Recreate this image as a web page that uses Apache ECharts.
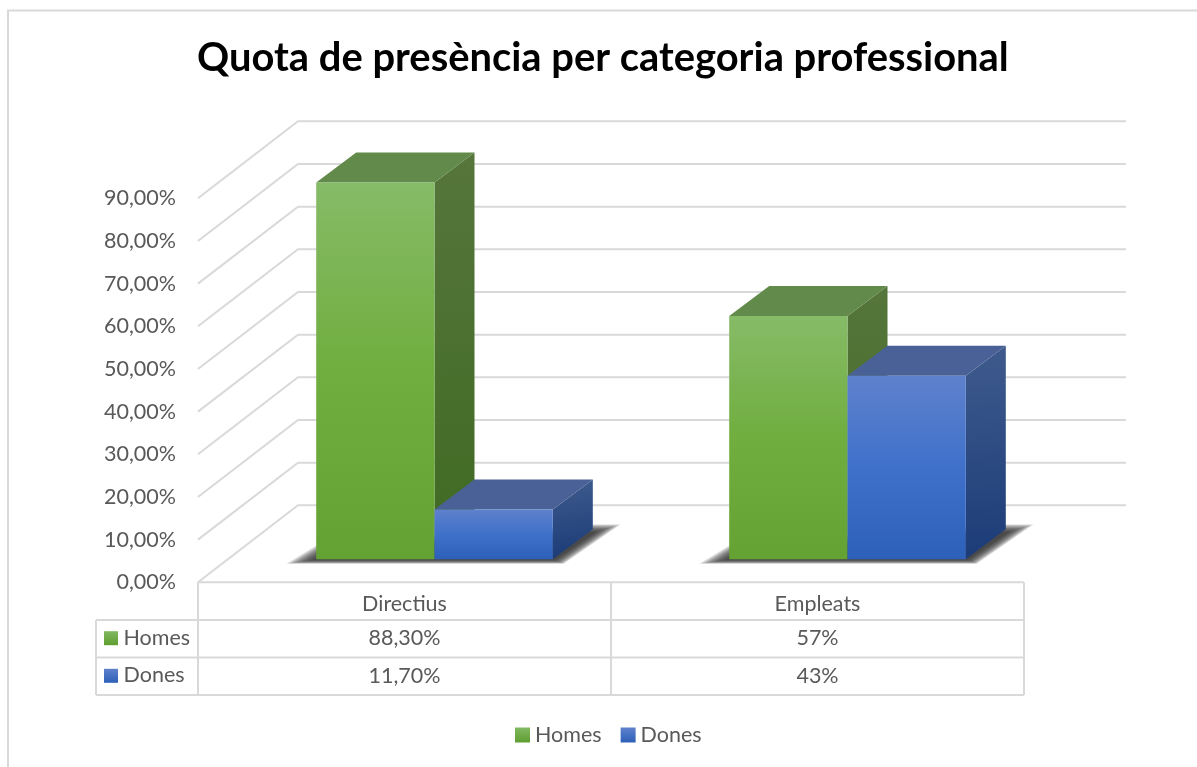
<!DOCTYPE html>
<html><head><meta charset="utf-8">
<style>html,body{margin:0;padding:0;background:#fff}#c{width:1197px;height:767px}</style>
<script src="https://cdn.jsdelivr.net/npm/echarts@6/dist/echarts.min.js"></script>
</head><body><div id="c"></div>
<script>
var titleText = 'Quota de presència per categoria professional';
var categories = ['Directius', 'Empleats'];
var seriesNames = ['Homes', 'Dones'];
var homes = [88.3, 57];
var dones = [11.7, 43];
var homesLabels = ['88,30%', '57%'];
var donesLabels = ['11,70%', '43%'];
var tickValues = [0, 10, 20, 30, 40, 50, 60, 70, 80, 90];

var FONT = 'Lato, "Open Sans", sans-serif';
var TXT = '#595959', GRID = '#d9d9d9';
var G = function (a, b, c, x2, y2) {
  var stops = c ? [{offset:0,color:a},{offset:.5,color:b},{offset:1,color:c}] : [{offset:0,color:a},{offset:1,color:b}];
  return new echarts.graphic.LinearGradient(0, 0, x2 || 0, y2 === undefined ? 1 : y2, stops);
};
var palette = [
  {front:['#86bb67','#70ae3f','#64a233'], side:['#56763c','#3f6a22'], top:'#628a4a', legend:['#82b862','#5f9e30']},
  {front:['#5f81cc','#3f71ca','#2d60b8'], side:['#3f5b8d','#1c3c78'], top:'#496196', legend:['#5f81cc','#2d60b8']}
];
// 3D projection: wall depth and the bar plane inside it
var WALL = [100, -77], PLANE = [30, -23], BAR = [40, -30], BAR_W = 118.3;
var TABLE_LEFT = 96, ROW = 37.6, SHADOW_LAYERS = 14;

function renderGrid(params, api) {
  var v = api.value(0);
  var p = api.coord([0, v]);
  var band = api.size([1, 0])[0];
  var x0 = p[0] - band / 2;
  var end = x0 + band * categories.length;
  var backX = x0 + WALL[0], backY = p[1] + WALL[1];
  var st = {stroke: GRID, lineWidth: 2, fill: null};
  return {type:'polyline', shape:{points:[[x0,p[1]],[backX,backY],[end+WALL[0]+2,backY]]}, style:st, silent:true};
}

function renderBar(s) {
  return function (params, api) {
    var i = api.value(0), val = api.value(1);
    var base = api.coord([i, 0]), top = api.coord([i, val]);
    var cx = base[0] + PLANE[0];
    var x0 = s === 0 ? cx - BAR_W : cx, x1 = x0 + BAR_W;
    var yb = base[1] + PLANE[1], yt = top[1] + PLANE[1];
    var dx = BAR[0], dy = BAR[1], c = palette[s];
    var kids = [];
    kids.push({type:'polygon', shape:{points:[[x1,yb],[x1+dx,yb+dy],[x1+dx,yt+dy],[x1,yt]]}, style:{fill:G(c.side[0],c.side[1],null,.25,1)}});
    kids.push({type:'polygon', shape:{points:[[x0,yt],[x0+dx,yt+dy],[x1+dx,yt+dy],[x1,yt]]}, style:{fill:c.top}});
    kids.push({type:'rect', shape:{x:x0,y:yt,width:BAR_W,height:yb-yt}, style:{fill:G(c.front[0],c.front[1],c.front[2])}});
    return {type:'group', children:kids, silent:true};
  };
}

function renderShadow(params, api) {
  var i = api.value(0);
  var base = api.coord([i, 0]);
  var cx = base[0] + PLANE[0], x0 = cx - BAR_W, x2 = cx + BAR_W, yb = base[1] + PLANE[1];
  var dx = BAR[0], dy = BAR[1];
  var outer = [[x0-30,yb+4.5],[x0+2,yb-15],[x2+dx,yb+dy-5],[x2+dx+28,yb+dy-5],[x2+11,yb+4.5]];
  var inner = [[x0-2,yb+.5],[x0+2,yb-2],[x2+dx,yb+dy+3],[x2+dx+2,yb+dy+3],[x2+2,yb+.5]];
  var kids = [];
  for (var k = 0; k < SHADOW_LAYERS; k++) {
    var t = k / (SHADOW_LAYERS - 1);
    var pts = outer.map(function (p, n) {
      return [p[0] + (inner[n][0] - p[0]) * t, p[1] + (inner[n][1] - p[1]) * t];
    });
    kids.push({type:'polygon', shape:{points:pts}, style:{fill:'rgba(45,45,45,.13)'}});
  }
  return {type:'group', silent:true, children:kids};
}

function renderTable(params, api) {
  var o = api.coord([0, 0]);
  var band = api.size([1, 0])[0];
  var x0 = o[0] - band / 2, y0 = o[1];
  var xEnd = x0 + band * categories.length;
  var st = {stroke: GRID, lineWidth: 2, fill:null};
  var line = function (a, b, c, d) { return {type:'line', shape:{x1:a,y1:b,x2:c,y2:d}, style:st}; };
  var kids = [];
  kids.push(line(x0, y0, xEnd, y0));
  for (var r = 1; r <= 3; r++) kids.push(line(TABLE_LEFT, y0 + ROW * r, xEnd, y0 + ROW * r));
  kids.push(line(TABLE_LEFT, y0 + ROW, TABLE_LEFT, y0 + ROW * 3));
  for (var k = 0; k <= categories.length; k++) kids.push(line(x0 + band * k, y0, x0 + band * k, y0 + ROW * 3));
  var txt = function (t, x, y, align) {
    return {type:'text', style:{text:t, x:x, y:y, align:align || 'center', verticalAlign:'middle', fill:TXT, font:'21.5px ' + FONT}};
  };
  var rows = [homesLabels, donesLabels];
  rows.forEach(function (vals, r) {
    var y = y0 + ROW * (r + 1.5) - .5;
    kids.push({type:'rect', shape:{x:104,y:y-7,width:14,height:14}, style:{fill:G(palette[r].legend[0],palette[r].legend[1])}});
    kids.push(txt(seriesNames[r], 123.5, y - .5, 'left'));
    vals.forEach(function (t, c) { kids.push(txt(t, x0 + band * (c + .5), y)); });
  });
  return {type:'group', children:kids, silent:true};
}

var chart = echarts.init(document.getElementById('c'), null, {renderer:'canvas'});
chart.setOption({
  animation:false,
  backgroundColor:'#fff',
  title:{text:titleText, left:192, top:33, textStyle:{color:'#000', fontSize:39.9, fontWeight:'bold', fontFamily:FONT}},
  legend:{left:510, top:719, icon:'rect', itemWidth:15, itemHeight:15, itemGap:19, selectedMode:false,
    textStyle:{color:TXT, fontSize:21.5, fontFamily:FONT}, data:seriesNames},
  grid:{left:198, right:173, top:198.3, bottom:184.7},
  xAxis:{type:'category', data:categories, axisLine:{show:false}, axisTick:{show:false}, splitLine:{show:false},
    axisLabel:{color:TXT, fontSize:21.5, fontFamily:FONT, margin:11}},
  yAxis:{type:'value', min:0, max:90, interval:10, axisLine:{show:false}, axisTick:{show:false}, splitLine:{show:false},
    axisLabel:{color:TXT, fontSize:21.5, fontFamily:FONT, margin:22, padding:[2,0,0,0], formatter:function(v){return v.toFixed(2).replace('.',',')+'%';}}},
  graphic:[{type:'polyline', shape:{points:[[8,780],[8,10.5],[1200,10.5]]}, style:{fill:null, stroke:GRID, lineWidth:2}, silent:true, z:-1}],
  series:[
    {type:'custom', name:'grid', coordinateSystem:'cartesian2d', clip:false, z:1, encode:{x:0,y:1},
      data:tickValues.map(function(v){return {value:[v]};}),
      renderItem:renderGrid, tooltip:{show:false}},
    {type:'custom', name:'shadow', clip:false, z:2, data:categories.map(function(c,i){return [i, 0];}), encode:{x:0,y:1}, renderItem:renderShadow},
    {type:'custom', name:seriesNames[0], clip:false, z:3, encode:{x:0,y:1}, itemStyle:{color:G(palette[0].legend[0],palette[0].legend[1])},
      data:homes.map(function(v,i){return [i,v];}), renderItem:renderBar(0)},
    {type:'custom', name:seriesNames[1], clip:false, z:3, encode:{x:0,y:1}, itemStyle:{color:G(palette[1].legend[0],palette[1].legend[1])},
      data:dones.map(function(v,i){return [i,v];}), renderItem:renderBar(1)},
    {type:'custom', name:'table', clip:false, z:4, encode:{x:0,y:1}, data:[[0,0]], renderItem:renderTable}
  ]
});
</script></body></html>
